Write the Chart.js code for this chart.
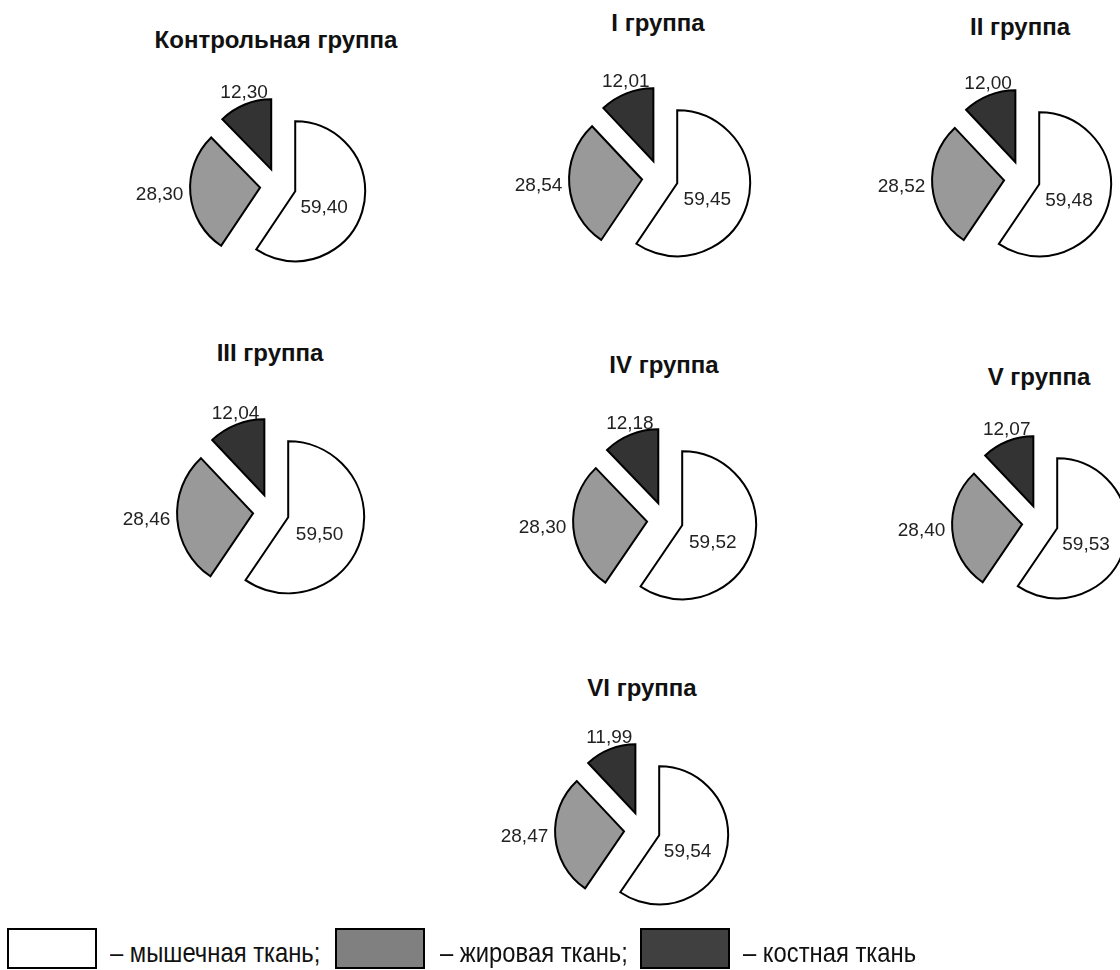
<!DOCTYPE html>
<html lang="ru">
<head>
<meta charset="utf-8">
<script src="https://cdn.jsdelivr.net/npm/chart.js@4"></script>
<style>
    html, body { margin: 0; padding: 0; background: #fff; }
    #page { position: relative; width: 1120px; height: 970px; overflow: hidden; font-family: "Liberation Sans", Arial, sans-serif; }
    .pie { position: absolute; }
    .title { position: absolute; transform: translate(-50%, -50%); font-weight: bold; font-size: 24px; color: #111; white-space: nowrap; }
    .box { position: absolute; top: 928px; width: 90px; height: 41px; box-sizing: border-box; border: 2px solid #000; }
    .ltext { position: absolute; top: 938px; font-size: 28px; line-height: 30px; color: #111; white-space: nowrap; transform: scaleX(0.85); transform-origin: left center; }
</style>
</head>
<body>
<div id="page"></div>
<script>
// данные: доля тканей в туше, %
const groups = ["Контрольная группа", "I группа", "II группа", "III группа", "IV группа", "V группа", "VI группа"];
const tissues = ["мышечная ткань", "жировая ткань", "костная ткань"];
const muscle = [59.40, 59.45, 59.48, 59.50, 59.52, 59.53, 59.54];
const fat = [28.30, 28.54, 28.52, 28.46, 28.30, 28.40, 28.47];
const bone = [12.30, 12.01, 12.00, 12.04, 12.18, 12.07, 11.99];

// расположение диаграмм на странице
const pieLayout = [
    { cx: 278, cy: 186, r: 70, tx: 276, ty: 40 },
    { cx: 660, cy: 178, r: 73, tx: 658, ty: 23 },
    { cx: 1022, cy: 179, r: 72, tx: 1020, ty: 27 },
    { cx: 271, cy: 512, r: 76, tx: 270, ty: 353 },
    { cx: 665, cy: 520, r: 74, tx: 664, ty: 365 },
    { cx: 1040, cy: 523, r: 70, tx: 1039, ty: 377 },
    { cx: 642, cy: 830, r: 69, tx: 642, ty: 688 }
];
const sliceColors = ["#ffffff", "#999999", "#333333"];
const legendColors = ["#ffffff", "#808080", "#404040"];
const explodeDist = 18;

const page = document.getElementById("page");

const fmt = v => v.toFixed(2).replace(".", ",");

// выдвинутые сектора: рисуем каждую дугу со сдвигом по её биссектрисе
const explodePlugin = {
    id: "explode",
    beforeDatasetDraw(chart, args, opts) {
        const ctx = chart.ctx;
        args.meta.data.forEach(arc => {
            const mid = (arc.startAngle + arc.endAngle) / 2;
            ctx.save();
            ctx.translate(Math.cos(mid) * opts.distance, Math.sin(mid) * opts.distance);
            arc.draw(ctx);
            ctx.restore();
        });
        return false;
    }
};

// подписи значений
const valueLabels = {
    id: "valueLabels",
    afterDatasetsDraw(chart, args, opts) {
        const ctx = chart.ctx;
        const d = chart.options.plugins.explode.distance;
        const meta = chart.getDatasetMeta(0);
        const vals = chart.data.datasets[0].data;
        ctx.save();
        ctx.font = opts.font;
        ctx.fillStyle = opts.color;
        meta.data.forEach((arc, i) => {
            const p = arc.getProps(["x", "y", "startAngle", "endAngle", "outerRadius"], true);
            const mid = (p.startAngle + p.endAngle) / 2;
            const text = fmt(vals[i]);
            if (i === 0) {
                const a = mid + 0.14;
                const dist = d + p.outerRadius * 0.47;
                ctx.textAlign = "center";
                ctx.textBaseline = "middle";
                ctx.fillText(text, p.x + Math.cos(a) * dist, p.y + Math.sin(a) * dist);
            } else {
                const cx = Math.cos(mid), sy = Math.sin(mid);
                if (Math.abs(cx) > Math.abs(sy)) {
                    const dist = d + p.outerRadius + 7;
                    ctx.textAlign = cx < 0 ? "right" : "left";
                    ctx.textBaseline = "middle";
                    ctx.fillText(text, p.x + cx * dist, p.y + sy * dist);
                } else {
                    const dist = d + p.outerRadius + 2;
                    ctx.textAlign = "center";
                    ctx.textBaseline = sy < 0 ? "bottom" : "top";
                    ctx.fillText(text, p.x + cx * dist, p.y + sy * dist);
                }
            }
        });
        ctx.restore();
    }
};

groups.forEach((name, i) => {
    const L = pieLayout[i];
    const W = 360, H = 300;

    const title = document.createElement("div");
    title.className = "title";
    title.textContent = name;
    title.style.left = L.tx + "px";
    title.style.top = L.ty + "px";
    page.appendChild(title);

    const canvas = document.createElement("canvas");
    canvas.className = "pie";
    canvas.width = W;
    canvas.height = H;
    canvas.style.left = (L.cx - W / 2) + "px";
    canvas.style.top = (L.cy - H / 2) + "px";
    page.appendChild(canvas);

    new Chart(canvas, {
        type: "pie",
        data: {
            labels: tissues,
            datasets: [{
                data: [muscle[i], fat[i], bone[i]],
                backgroundColor: sliceColors,
                borderColor: "#000",
                borderWidth: 2,
                borderJoinStyle: "miter"
            }]
        },
        options: {
            responsive: false,
            maintainAspectRatio: false,
            animation: false,
            radius: L.r,
            layout: { padding: 0 },
            events: [],
            plugins: {
                legend: { display: false },
                tooltip: { enabled: false },
                explode: { distance: explodeDist },
                valueLabels: { font: '19px "Liberation Sans", Arial, sans-serif', color: "#222" }
            }
        },
        plugins: [explodePlugin, valueLabels]
    });
});

// легенда
const legendBoxX = [7, 335, 640];
const legendTextX = [110, 440, 743];
const legendSuffix = [";", ";", ""];
tissues.forEach((t, i) => {
    const box = document.createElement("div");
    box.className = "box";
    box.style.left = legendBoxX[i] + "px";
    box.style.background = legendColors[i];
    page.appendChild(box);

    const txt = document.createElement("div");
    txt.className = "ltext";
    txt.style.left = legendTextX[i] + "px";
    txt.textContent = "– " + t + legendSuffix[i];
    page.appendChild(txt);
});
</script>
</body>
</html>
